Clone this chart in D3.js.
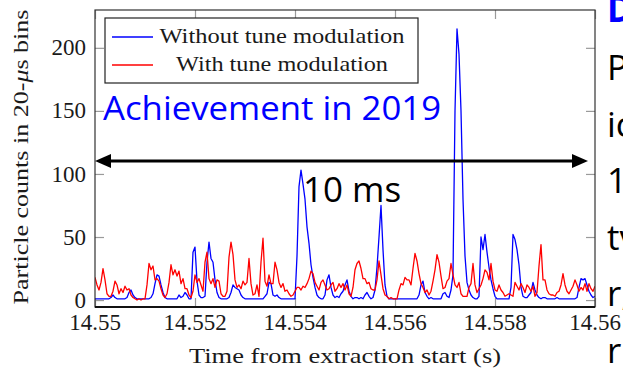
<!DOCTYPE html>
<html>
<head>
<meta charset="utf-8">
<script src="https://cdn.jsdelivr.net/npm/d3@7/dist/d3.min.js"></script>
<style>
  body { margin: 0; background: #fff; }
  svg { display: block; }
</style>
</head>
<body>
<div id="chart"></div>
<script>
// histogram, one value every 40 us starting at 14.55 s
const binStart = 14.55;
const binStep = 0.00004;

const withoutTune = [
  1,1,1,1,1,1,1,1,2,4,2,1,1,1,1,1,2,6,8,4,2,1,1,1,1,1,1,1,2,5,13,20,19,12,6,2,1,1,1,1,1,1,4,
  2,3,6,4,1,1,38,42,15,4,2,2,3,30,46,33,30,16,6,2,1,1,1,1,2,6,12,10,9,8,4,2,1,1,1,1,1,1,1,1,1,1,
  3,5,14,13,4,3,4,2,1,1,1,1,1,1,1,1,35,90,103,92,80,58,45,28,18,10,4,2,1,1,4,16,20,10,4,2,3,2,5,7,12,16,
  7,3,1,2,2,1,2,1,4,6,3,1,2,8,26,50,75,40,12,3,1,1,1,1,1,1,1,1,1,1,1,1,1,1,1,4,12,15,6,3,1,2,
  1,1,1,1,1,5,6,3,2,8,20,150,215,195,150,80,35,14,8,4,2,1,1,3,50,40,52,38,26,16,9,3,1,1,1,1,1,1,1,10,52,48,
  40,28,10,3,2,2,4,6,14,8,4,2,1,2,2,1,1,1,1,1,2,1,1,1,1,1,1,1,1,1,2,10,17,16,17,12,7,4,2,3
];

const withTune = [
  18,12,8,14,25,16,5,3,3,7,15,12,5,9,6,11,8,9,4,2,1,0,1,0,1,1,12,29,24,27,16,17,15,9,4,2,5,14,28,20,24,19,23,
  13,17,9,9,4,2,7,20,14,17,12,7,30,38,17,13,17,10,16,15,5,3,3,7,34,46,36,16,10,12,9,15,12,14,33,13,4,5,12,3,30,49,
  15,11,20,13,13,30,24,14,10,13,7,8,5,3,4,7,10,10,8,11,10,13,17,23,21,14,11,8,14,16,12,8,9,12,14,7,9,13,10,13,8,12,
  5,3,10,24,29,31,25,17,17,13,14,9,8,8,16,31,20,9,4,3,1,2,1,1,1,8,13,12,18,16,16,12,25,37,31,21,13,10,6,8,4,7,
  15,24,36,30,19,9,10,15,17,29,20,12,10,14,5,3,3,3,10,13,29,12,6,9,12,17,24,22,16,29,15,8,7,12,8,6,3,4,5,4,3,14,
  11,8,13,10,6,12,10,7,11,3,6,27,44,16,16,8,5,4,4,3,6,7,12,21,12,7,5,8,11,16,12,7,10,8,13,7,13,9,7,11
];

const seriesNames = ['Without tune modulation', 'With tune modulation'];
const xTicks = [14.55, 14.552, 14.554, 14.556, 14.558, 14.56];
const xTickLabels = ['14.55', '14.552', '14.554', '14.556', '14.558', '14.56'];
const yTicks = [0, 50, 100, 150, 200];
const slideLines = ['D', 'P', 'ic', '1', 'tv', 'r,', 'r'];

const width = 623, height = 369;
const plot = { left: 95, right: 595, top: 10, bottom: 307 };
const serif = '"Liberation Serif", "Times New Roman", serif';
const sans = '"Open Sans", "Noto Sans", sans-serif';

const svg = d3.select('#chart')
  .append('svg')
  .attr('width', width)
  .attr('height', height);

svg.append('rect').attr('width', width).attr('height', height).attr('fill', '#fff');

const x = d3.scaleLinear().domain([14.55, 14.56]).range([plot.left, plot.right]);
const y = d3.scaleLinear().domain([-5.5, 230]).range([plot.bottom, plot.top]);

svg.append('clipPath').attr('id', 'clip')
  .append('rect')
  .attr('x', plot.left).attr('y', plot.top)
  .attr('width', plot.right - plot.left).attr('height', plot.bottom - plot.top);

// tick marks point inwards on all four sides
const tickLen = 9;
const bottomAxis = d3.axisBottom(x).tickValues(xTicks).tickSize(-tickLen).tickFormat('');
const topAxis = d3.axisTop(x).tickValues(xTicks).tickSize(-tickLen).tickFormat('');
const leftAxis = d3.axisLeft(y).tickValues(yTicks).tickSize(-tickLen).tickFormat('');
const rightAxis = d3.axisRight(y).tickValues(yTicks).tickSize(-tickLen).tickFormat('');

[[bottomAxis, `translate(0,${plot.bottom})`], [topAxis, `translate(0,${plot.top})`],
 [leftAxis, `translate(${plot.left},0)`], [rightAxis, `translate(${plot.right},0)`]]
  .forEach(([ax, tr]) => {
    const g = svg.append('g').attr('transform', tr).call(ax);
    g.select('.domain').remove();
    g.selectAll('line').attr('stroke', '#9a9a9a').attr('stroke-width', 1.2);
  });

// tick labels
svg.append('g').selectAll('text')
  .data(xTicks)
  .enter().append('text')
  .attr('x', d => x(d))
  .attr('y', 330)
  .attr('text-anchor', 'middle')
  .attr('font-family', serif)
  .attr('font-size', 23)
  .attr('fill', '#1a1a1a')
  .text((d, i) => xTickLabels[i]);

svg.append('g').selectAll('text')
  .data(yTicks)
  .enter().append('text')
  .attr('x', 86)
  .attr('y', d => y(d))
  .attr('dy', '0.33em')
  .attr('text-anchor', 'end')
  .attr('font-family', serif)
  .attr('font-size', 23)
  .attr('fill', '#1a1a1a')
  .text(d => d);

// series
const line = d3.line()
  .x((d, i) => x(binStart + i * binStep))
  .y(d => y(d));

const lines = svg.append('g').attr('clip-path', 'url(#clip)');
lines.append('path')
  .datum(withoutTune)
  .attr('d', line)
  .attr('fill', 'none')
  .attr('stroke', '#0000ff')
  .attr('stroke-width', 1.3)
  .attr('stroke-linejoin', 'round');
lines.append('path')
  .datum(withTune)
  .attr('d', line)
  .attr('fill', 'none')
  .attr('stroke', '#ff0000')
  .attr('stroke-width', 1.3)
  .attr('stroke-linejoin', 'round');

// frame
svg.append('rect')
  .attr('x', plot.left).attr('y', plot.top)
  .attr('width', plot.right - plot.left).attr('height', plot.bottom - plot.top)
  .attr('fill', 'none')
  .attr('stroke', '#333')
  .attr('stroke-width', 1.2);
svg.append('line')
  .attr('x1', plot.left).attr('x2', plot.right)
  .attr('y1', plot.bottom).attr('y2', plot.bottom)
  .attr('stroke', '#111')
  .attr('stroke-width', 2);

// axis titles (glyphs stretched a little to match the wider LaTeX font)
svg.append('text')
  .attr('x', 345)
  .attr('y', 363)
  .attr('text-anchor', 'middle')
  .attr('font-family', serif)
  .attr('font-size', 22)
  .attr('fill', '#1a1a1a')
  .attr('textLength', 312)
  .attr('lengthAdjust', 'spacingAndGlyphs')
  .text('Time from extraction start (s)');

const yTitle = svg.append('text')
  .attr('transform', 'translate(28,157) rotate(-90)')
  .attr('text-anchor', 'middle')
  .attr('font-family', serif)
  .attr('font-size', 22)
  .attr('fill', '#1a1a1a')
  .attr('textLength', 295)
  .attr('lengthAdjust', 'spacingAndGlyphs');
yTitle.append('tspan').text('Particle counts in 20-');
yTitle.append('tspan').attr('font-style', 'italic').text('\u03bc');
yTitle.append('tspan').text('s bins');

// legend
const legend = svg.append('g');
legend.append('rect')
  .attr('x', 105).attr('y', 18)
  .attr('width', 313).attr('height', 65)
  .attr('fill', '#fff')
  .attr('stroke', '#222')
  .attr('stroke-width', 1.2);
const legendColors = ['#0000ff', '#ff0000'];
const legendText = [{ cx: 282, w: 245 }, { cx: 282, w: 212 }];
seriesNames.forEach((name, i) => {
  const ly = 37 + i * 28;
  legend.append('line')
    .attr('x1', 112).attr('x2', 153)
    .attr('y1', ly).attr('y2', ly)
    .attr('stroke', legendColors[i])
    .attr('stroke-width', 1.3);
  legend.append('text')
    .attr('x', legendText[i].cx)
    .attr('y', ly + 6)
    .attr('text-anchor', 'middle')
    .attr('font-family', serif)
    .attr('font-size', 22)
    .attr('fill', '#1a1a1a')
    .attr('textLength', legendText[i].w)
    .attr('lengthAdjust', 'spacingAndGlyphs')
    .text(name);
});

// slide annotations on top of the figure
svg.append('text')
  .attr('x', 103).attr('y', 120)
  .attr('font-family', sans)
  .attr('font-size', 32)
  .attr('fill', '#0000ff')
  .attr('textLength', 338)
  .attr('lengthAdjust', 'spacingAndGlyphs')
  .text('Achievement in 2019');

const arrowY = 161;
const ax0 = x(14.55), ax1 = x(14.55986);
svg.append('line')
  .attr('x1', ax0 + 10).attr('x2', ax1 - 10)
  .attr('y1', arrowY).attr('y2', arrowY)
  .attr('stroke', '#000')
  .attr('stroke-width', 3);
svg.append('path')
  .attr('d', `M${ax0},${arrowY}L${ax0 + 16},${arrowY - 7}L${ax0 + 16},${arrowY + 7}Z`)
  .attr('fill', '#000');
svg.append('path')
  .attr('d', `M${ax1},${arrowY}L${ax1 - 16},${arrowY - 7}L${ax1 - 16},${arrowY + 7}Z`)
  .attr('fill', '#000');

svg.append('text')
  .attr('x', 303).attr('y', 202)
  .attr('font-family', sans)
  .attr('font-size', 35)
  .attr('fill', '#000')
  .text('10 ms');

// fragments of the slide text that the screenshot cuts at its right edge
svg.append('g').selectAll('text')
  .data(slideLines)
  .enter().append('text')
  .attr('x', 607)
  .attr('y', (d, i) => i === 0 ? 22 : 80 + (i - 1) * 56.6)
  .attr('font-family', sans)
  .attr('font-size', 35)
  .attr('font-weight', (d, i) => i === 0 ? 'bold' : 'normal')
  .attr('fill', (d, i) => i === 0 ? '#0000ff' : '#000')
  .text(d => d);
</script>
</body>
</html>
